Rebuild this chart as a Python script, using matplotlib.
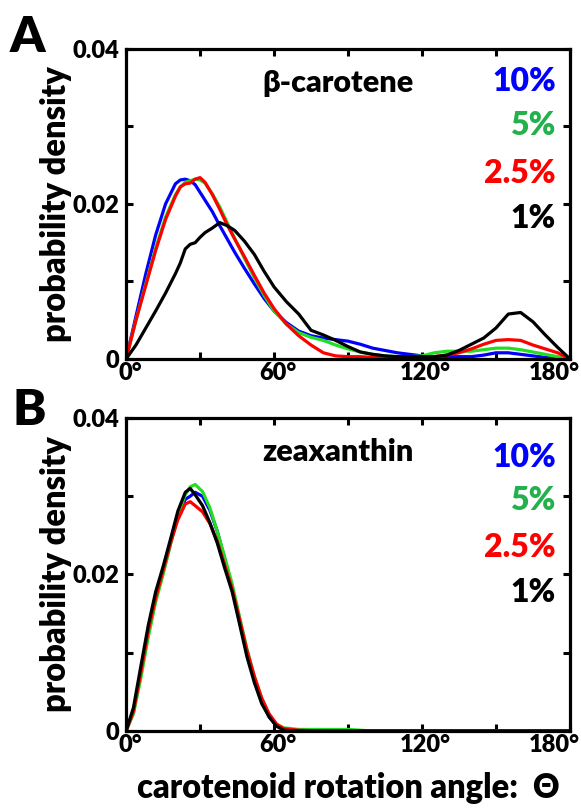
import matplotlib
matplotlib.use("Agg")
import matplotlib.pyplot as plt
from matplotlib.ticker import FixedLocator
from matplotlib.transforms import ScaledTranslation

# panel A: beta-carotene
angle_a = [0, 4, 8, 12, 16, 20, 22, 24, 26, 28, 30, 32, 35, 38, 41, 44, 48, 52, 56, 60,
           65, 70, 75, 80, 85, 90, 95, 100, 105, 110, 115, 120, 125, 130, 135, 140, 145,
           150, 155, 160, 165, 170, 175, 180]
bc_10 = [0, 0.0055, 0.0110, 0.0160, 0.0200, 0.0226, 0.0231, 0.0232, 0.0230, 0.0225, 0.0215,
         0.0205, 0.0190, 0.0172, 0.0155, 0.0138, 0.0117, 0.0097, 0.0078, 0.0062, 0.0047,
         0.0036, 0.0030, 0.0027, 0.0025, 0.0023, 0.0019, 0.0014, 0.0011, 0.0008, 0.0006,
         0.0004, 0.0003, 0.0003, 0.0003, 0.0003, 0.0005, 0.0008, 0.0008, 0.0006, 0.0004,
         0.0002, 0.0001, 0]
bc_5 = [0, 0.0050, 0.0097, 0.0143, 0.0183, 0.0212, 0.0222, 0.0228, 0.0230, 0.0232, 0.0231,
        0.0227, 0.0213, 0.0196, 0.0176, 0.0156, 0.0130, 0.0105, 0.0082, 0.0062, 0.0045,
        0.0034, 0.0028, 0.0024, 0.0018, 0.0013, 0.0009, 0.0006, 0.0004, 0.0003, 0.0003,
        0.0004, 0.0008, 0.0010, 0.0010, 0.0010, 0.0012, 0.0014, 0.0014, 0.0012, 0.0009,
        0.0006, 0.0003, 0]
bc_25 = [0, 0.0050, 0.0095, 0.0140, 0.0180, 0.0210, 0.0222, 0.0226, 0.0227, 0.0232, 0.0234,
         0.0228, 0.0212, 0.0193, 0.0173, 0.0155, 0.0132, 0.0108, 0.0085, 0.0065, 0.0045,
         0.0030, 0.0018, 0.0008, 0.0004, 0.0003, 0.0003, 0.0002, 0.0002, 0.0002, 0.0002,
         0.0002, 0.0003, 0.0005, 0.0008, 0.0013, 0.0019, 0.0024, 0.0025, 0.0024, 0.0018,
         0.0013, 0.0008, 0]
bc_1 = [0, 0.0018, 0.0040, 0.0062, 0.0085, 0.0110, 0.0124, 0.0142, 0.0148, 0.0150, 0.0157,
        0.0163, 0.0169, 0.0176, 0.0172, 0.0166, 0.0152, 0.0135, 0.0113, 0.0093, 0.0074,
        0.0058, 0.0037, 0.0031, 0.0024, 0.0016, 0.0009, 0.0006, 0.0004, 0.0003, 0.0003,
        0.0003, 0.0003, 0.0005, 0.0011, 0.0019, 0.0027, 0.0040, 0.0058, 0.0060, 0.0048,
        0.0031, 0.0015, 0]

# panel B: zeaxanthin
angle_b = [0, 3, 6, 9, 12, 15, 18, 21, 24, 26, 28, 31, 34, 37, 40, 43, 46, 49, 52, 55, 58,
           61, 64, 70, 80, 90, 95, 100, 120, 150, 180]
zx_10 = [0, 0.0026, 0.0075, 0.0127, 0.0170, 0.0203, 0.0240, 0.0274, 0.0296, 0.0300, 0.0305,
         0.0300, 0.0282, 0.0255, 0.0220, 0.0183, 0.0140, 0.0100, 0.0066, 0.0038, 0.0018,
         0.0007, 0.0002, 0.0001, 0, 0, 0, 0, 0, 0, 0]
zx_5 = [0, 0.0022, 0.0068, 0.0120, 0.0165, 0.0200, 0.0238, 0.0275, 0.0302, 0.0312, 0.0315,
        0.0306, 0.0285, 0.0255, 0.0222, 0.0188, 0.0146, 0.0105, 0.0070, 0.0042, 0.0020,
        0.0008, 0.0004, 0.0002, 0.0002, 0.0002, 0.0001, 0, 0, 0, 0]
zx_25 = [0, 0.0025, 0.0075, 0.0128, 0.0170, 0.0205, 0.0240, 0.0270, 0.0290, 0.0293, 0.0288,
         0.0280, 0.0265, 0.0242, 0.0212, 0.0182, 0.0143, 0.0103, 0.0070, 0.0042, 0.0022,
         0.0009, 0.0003, 0.0001, 0, 0, 0, 0, 0, 0, 0]
zx_1 = [0, 0.0030, 0.0083, 0.0135, 0.0178, 0.0210, 0.0245, 0.0281, 0.0305, 0.0310, 0.0302,
        0.0288, 0.0266, 0.0240, 0.0208, 0.0178, 0.0137, 0.0095, 0.0062, 0.0035, 0.0018,
        0.0006, 0.0001, 0, 0, 0, 0, 0, 0, 0, 0]

conc_labels = ["10%", "5%", "2.5%", "1%"]
line_colors = ["#0000ff", "#22dd22", "#ff0000", "#000000"]
text_colors = ["#0000ff", "#22b14c", "#ff0000", "#000000"]

plt.rcParams["font.family"] = ["Lato", "DejaVu Sans"]
plt.rcParams["font.weight"] = "heavy"

fig = plt.figure(figsize=(5.81, 8.08), dpi=100)
ax_a = fig.add_axes([0.217, 0.5557, 0.764, 0.3837])
ax_b = fig.add_axes([0.217, 0.0953, 0.764, 0.3874])


def draw_panel(ax, x, series, title, label_y):
    for ys, c in zip(series, line_colors):
        ax.plot(x, ys, color=c, lw=2.3, solid_joinstyle="round")
    ax.set_xlim(0, 180)
    ax.set_ylim(0, 0.04)
    ax.xaxis.set_major_locator(FixedLocator([0, 60, 120, 180]))
    ax.xaxis.set_minor_locator(FixedLocator([30, 90, 150]))
    ax.yaxis.set_major_locator(FixedLocator([0, 0.01, 0.02, 0.03, 0.04]))
    ax.set_xticklabels(["0°", "60°", "120°", "180°"])
    ax.set_yticklabels(["0", "", "0.02", "", "0.04"])
    ax.tick_params(which="both", direction="in", top=True, right=True,
                   length=5, width=2.2, labelsize=17)
    ax.tick_params(axis="x", pad=2)
    ax.tick_params(axis="y", pad=5)
    # nudge the degree labels, the last one is pulled in to fit the figure
    xlbls = ax.get_xticklabels()
    for lbl, dx in zip(xlbls, [4, 4, 3, -16]):
        lbl.set_transform(lbl.get_transform() + ScaledTranslation(dx / 100, 0, fig.dpi_scale_trans))
    for s in ax.spines.values():
        s.set_linewidth(2.3)
    ax.text(0.477, 0.89, title, transform=ax.transAxes, ha="center", va="center",
            fontsize=22, fontweight="heavy")
    for lbl, c, yy in zip(conc_labels, text_colors, label_y):
        ax.text(0.968, yy, lbl, transform=ax.transAxes, ha="right", va="center",
                fontsize=23, fontweight="heavy", color=c)
    ax.text(-0.158, 0.5, "probability density", transform=ax.transAxes, rotation=90,
            ha="center", va="center", fontsize=23.5, fontweight="heavy")


draw_panel(ax_a, angle_a, [bc_10, bc_5, bc_25, bc_1], "β-carotene",
           [0.894, 0.752, 0.597, 0.452])
draw_panel(ax_b, angle_b, [zx_10, zx_5, zx_25, zx_1], "zeaxanthin",
           [0.875, 0.735, 0.585, 0.441])

fig.text(0.047, 0.954, "A", fontsize=36, fontweight="heavy", ha="center", va="center")
fig.text(0.050, 0.492, "B", fontsize=36, fontweight="heavy", ha="center", va="center")
fig.text(0.600, 0.025, "carotenoid rotation angle:  Θ", fontsize=23.5, fontweight="heavy",
         ha="center", va="center")

fig.savefig("out.png", dpi=100)
